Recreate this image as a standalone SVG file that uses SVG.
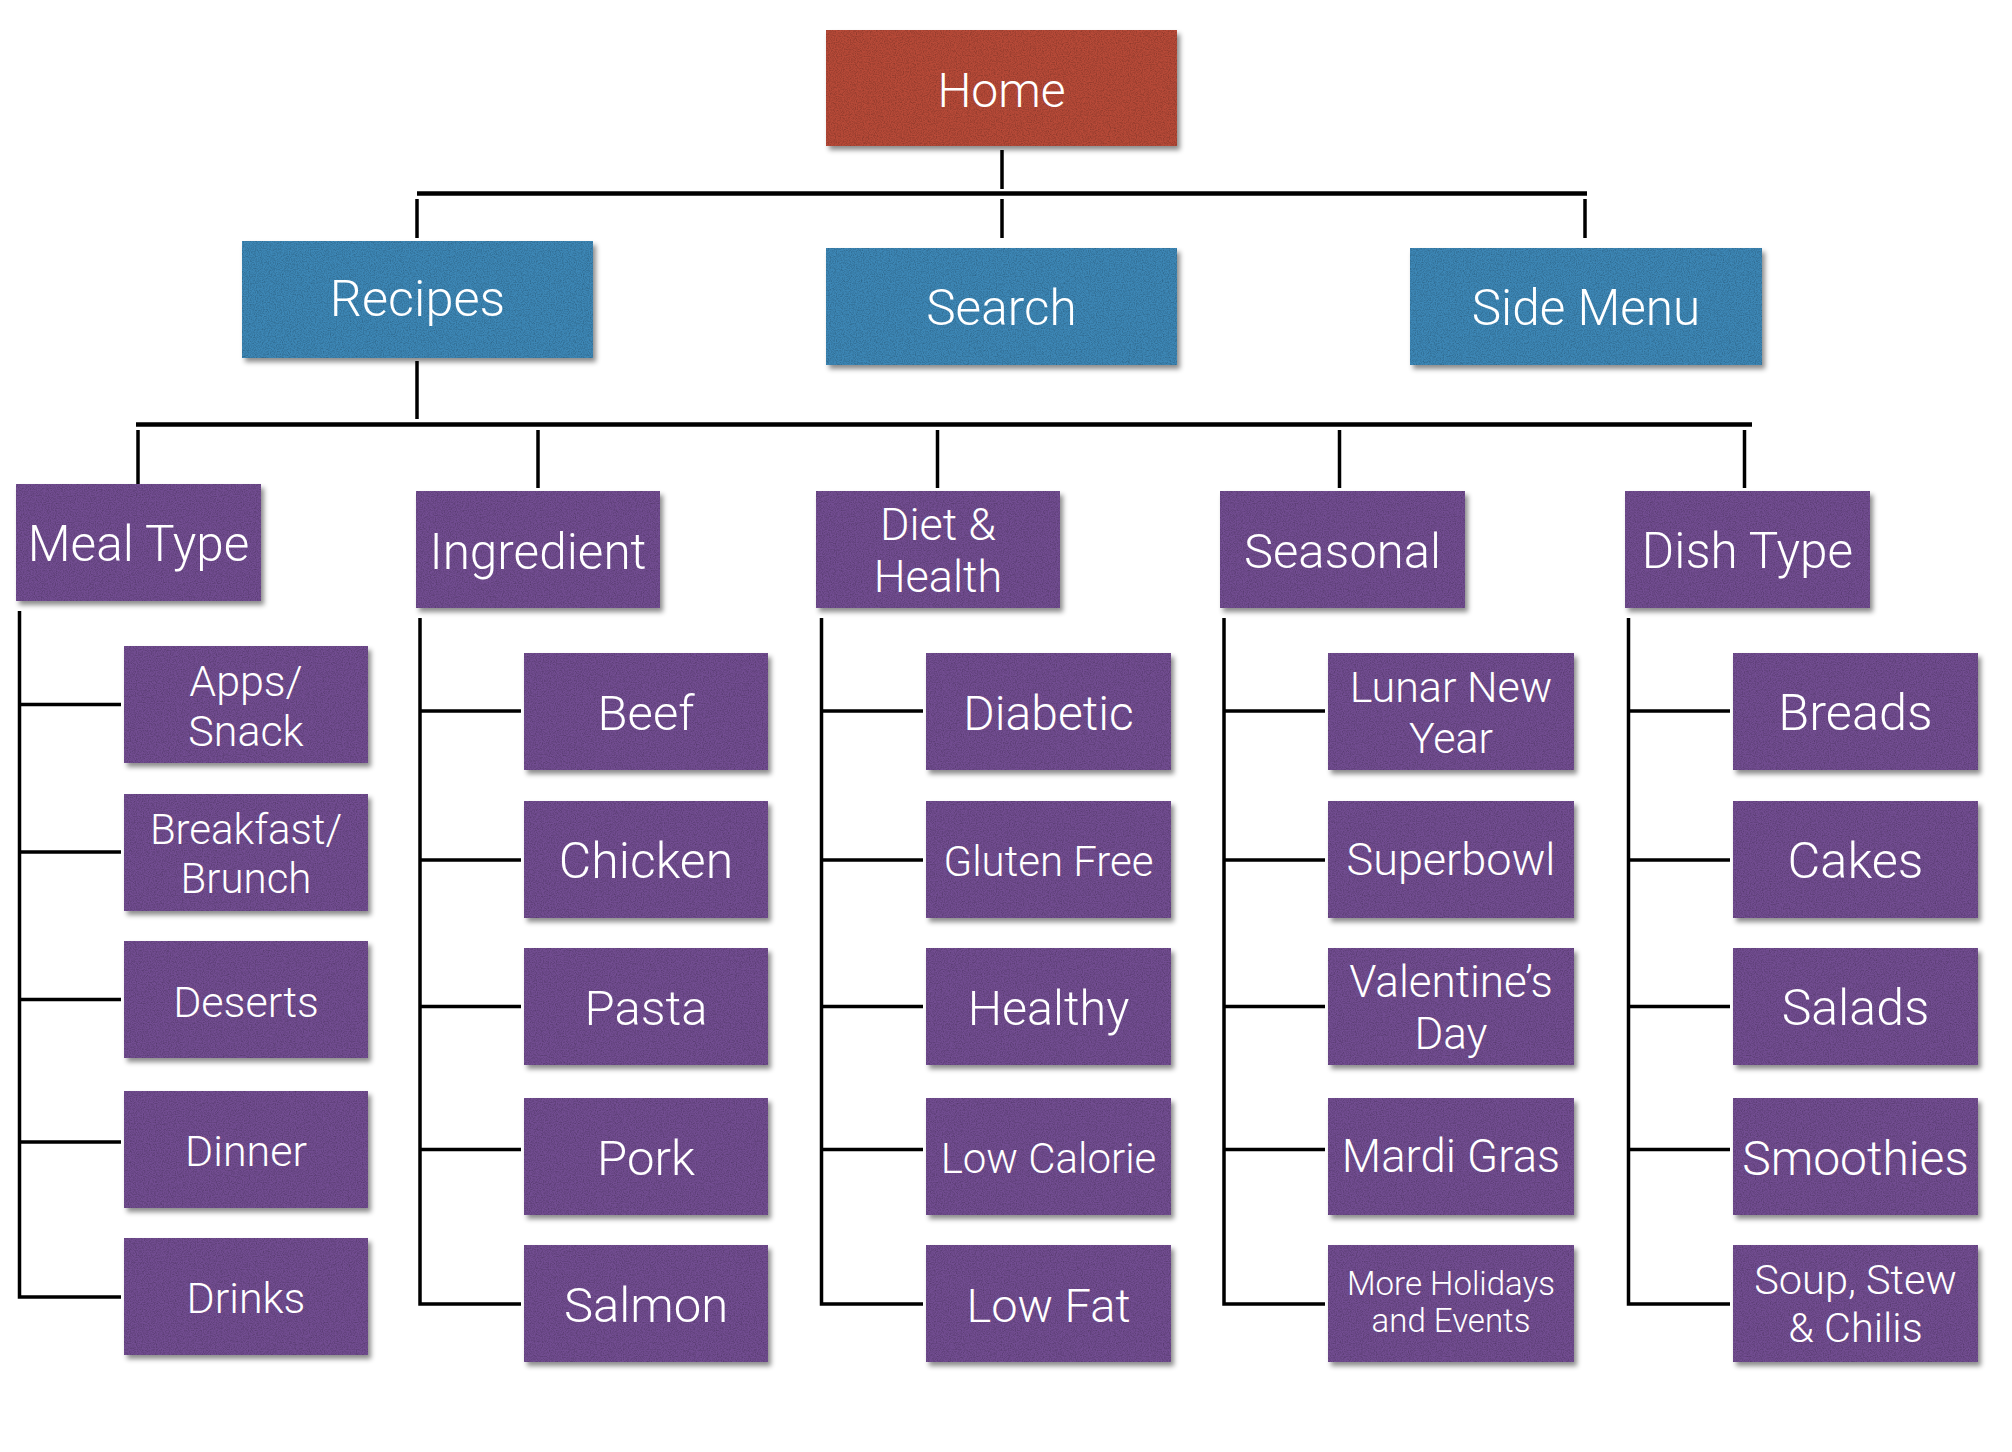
<svg xmlns="http://www.w3.org/2000/svg" width="2012" height="1452" viewBox="0 0 2012 1452">
  <style>
    .card { filter: url(#paper); }
    .home { fill: #b74a38; }
    .nav { fill: #3d87b6; }
    .cat { fill: #724d91; }
    .lbl { font-family: "Roboto Light", Roboto, "Liberation Sans", "DejaVu Sans", sans-serif; font-weight: 300; fill: #ffffff; text-anchor: middle; }
    .wire { fill: none; stroke: #000000; stroke-width: 3.5; stroke-linecap: butt; }
    .bus { fill: none; stroke: #000000; stroke-width: 4.5; }
  </style>
  <defs>
    <!-- paper grain plus a soft drop shadow for every card -->
    <filter id="paper" x="-5%" y="-8%" width="115%" height="125%" color-interpolation-filters="sRGB">
      <feTurbulence type="fractalNoise" baseFrequency="0.85" numOctaves="3" seed="7" result="noise"/>
      <feColorMatrix in="noise" type="matrix" values="0 0 0 0 0  0 0 0 0 0  0 0 0 0 0  0 0 0 0.45 -0.17" result="grain"/>
      <feComposite in="grain" in2="SourceAlpha" operator="in" result="grainIn"/>
      <feGaussianBlur in="SourceAlpha" stdDeviation="2.5" result="blur"/>
      <feOffset in="blur" dx="3" dy="4" result="off"/>
      <feFlood flood-color="#000000" flood-opacity="0.45"/>
      <feComposite in2="off" operator="in" result="shadow"/>
      <feMerge>
        <feMergeNode in="shadow"/>
        <feMergeNode in="SourceGraphic"/>
        <feMergeNode in="grainIn"/>
      </feMerge>
    </filter>
  </defs>

  <g id="connectors">
    <!-- Home to second level -->
    <line class="wire" x1="1002" y1="150" x2="1002" y2="189"/>
    <line class="bus" x1="417" y1="193.5" x2="1587" y2="193.5"/>
    <line class="wire" x1="417" y1="199" x2="417" y2="238"/>
    <line class="wire" x1="1002" y1="199" x2="1002" y2="238"/>
    <line class="wire" x1="1585" y1="199" x2="1585" y2="238"/>
    <!-- Recipes to categories -->
    <line class="wire" x1="417" y1="361" x2="417" y2="419"/>
    <line class="bus" x1="136" y1="424.5" x2="1752" y2="424.5"/>
    <line class="wire" x1="138" y1="430" x2="138" y2="488"/>
    <line class="wire" x1="538" y1="430" x2="538" y2="488"/>
    <line class="wire" x1="937.5" y1="430" x2="937.5" y2="488"/>
    <line class="wire" x1="1339.5" y1="430" x2="1339.5" y2="488"/>
    <line class="wire" x1="1744.5" y1="430" x2="1744.5" y2="488"/>
    <!-- Meal Type spine -->
    <path class="wire" d="M19.5,611 V1297 H121 M19.5,704.5 H121 M19.5,852 H121 M19.5,999.5 H121 M19.5,1142 H121"/>
    <!-- Ingredient spine -->
    <path class="wire" d="M420,618 V1304 H521 M420,711 H521 M420,860 H521 M420,1006.5 H521 M420,1149.5 H521"/>
    <!-- Diet & Health spine -->
    <path class="wire" d="M821.5,618 V1304 H923 M821.5,711 H923 M821.5,860 H923 M821.5,1006.5 H923 M821.5,1149.5 H923"/>
    <!-- Seasonal spine -->
    <path class="wire" d="M1224,618 V1304 H1325 M1224,711 H1325 M1224,860 H1325 M1224,1006.5 H1325 M1224,1149.5 H1325"/>
    <!-- Dish Type spine -->
    <path class="wire" d="M1628.5,618 V1304 H1730 M1628.5,711 H1730 M1628.5,860 H1730 M1628.5,1006.5 H1730 M1628.5,1149.5 H1730"/>
  </g>

  <!-- top level -->
  <g id="home"><rect class="card home" x="826" y="30" width="351" height="116"/><text class="lbl" x="1001.5" y="107" font-size="48">Home</text></g>

  <!-- second level -->
  <g id="recipes"><rect class="card nav" x="242" y="241" width="351" height="117"/><text class="lbl" x="417.5" y="316" font-size="50.5">Recipes</text></g>
  <g id="search"><rect class="card nav" x="826" y="248" width="351" height="117"/><text class="lbl" x="1001.5" y="325" font-size="49.5">Search</text></g>
  <g id="side-menu"><rect class="card nav" x="1410" y="248" width="352" height="117"/><text class="lbl" x="1586" y="325" font-size="49.5">Side Menu</text></g>

  <!-- recipe categories -->
  <g id="meal-type"><rect class="card cat" x="16" y="484" width="245" height="117"/><text class="lbl" x="138.5" y="561" font-size="49.5">Meal Type</text></g>
  <g id="ingredient"><rect class="card cat" x="416" y="491" width="244" height="117"/><text class="lbl" x="538" y="568.5" font-size="49.5">Ingredient</text></g>
  <g id="diet-health"><rect class="card cat" x="816" y="491" width="244" height="117"/><text class="lbl" x="938" font-size="45"><tspan x="938" y="540">Diet &amp;</tspan><tspan x="938" y="592">Health</tspan></text></g>
  <g id="seasonal"><rect class="card cat" x="1220" y="491" width="245" height="117"/><text class="lbl" x="1342.5" y="568" font-size="49">Seasonal</text></g>
  <g id="dish-type"><rect class="card cat" x="1625" y="491" width="245" height="117"/><text class="lbl" x="1747.5" y="568" font-size="49.5">Dish Type</text></g>

  <!-- Meal Type items -->
  <g id="apps-snack"><rect class="card cat" x="124" y="646" width="244" height="117"/><text class="lbl" font-size="43"><tspan x="246" y="695.5">Apps/</tspan><tspan x="246" y="745.5">Snack</tspan></text></g>
  <g id="breakfast-brunch"><rect class="card cat" x="124" y="794" width="244" height="117"/><text class="lbl" font-size="42"><tspan x="246" y="844">Breakfast/</tspan><tspan x="246" y="893">Brunch</tspan></text></g>
  <g id="deserts"><rect class="card cat" x="124" y="941" width="244" height="117"/><text class="lbl" x="246" y="1016.5" font-size="43">Deserts</text></g>
  <g id="dinner"><rect class="card cat" x="124" y="1091" width="244" height="117"/><text class="lbl" x="246" y="1166" font-size="43">Dinner</text></g>
  <g id="drinks"><rect class="card cat" x="124" y="1238" width="244" height="117"/><text class="lbl" x="246" y="1313" font-size="43">Drinks</text></g>

  <!-- Ingredient items -->
  <g id="beef"><rect class="card cat" x="524" y="653" width="244" height="117"/><text class="lbl" x="646" y="730" font-size="49">Beef</text></g>
  <g id="chicken"><rect class="card cat" x="524" y="801" width="244" height="117"/><text class="lbl" x="646" y="878" font-size="50">Chicken</text></g>
  <g id="pasta"><rect class="card cat" x="524" y="948" width="244" height="117"/><text class="lbl" x="646" y="1025" font-size="49">Pasta</text></g>
  <g id="pork"><rect class="card cat" x="524" y="1098" width="244" height="117"/><text class="lbl" x="646" y="1175" font-size="49">Pork</text></g>
  <g id="salmon"><rect class="card cat" x="524" y="1245" width="244" height="117"/><text class="lbl" x="646" y="1322" font-size="49">Salmon</text></g>

  <!-- Diet & Health items -->
  <g id="diabetic"><rect class="card cat" x="926" y="653" width="245" height="117"/><text class="lbl" x="1048.5" y="730" font-size="48">Diabetic</text></g>
  <g id="gluten-free"><rect class="card cat" x="926" y="801" width="245" height="117"/><text class="lbl" x="1048.5" y="875.5" font-size="42">Gluten Free</text></g>
  <g id="healthy"><rect class="card cat" x="926" y="948" width="245" height="117"/><text class="lbl" x="1048.5" y="1024.5" font-size="48.5">Healthy</text></g>
  <g id="low-calorie"><rect class="card cat" x="926" y="1098" width="245" height="117"/><text class="lbl" x="1048.5" y="1172.5" font-size="42">Low Calorie</text></g>
  <g id="low-fat"><rect class="card cat" x="926" y="1245" width="245" height="117"/><text class="lbl" x="1048.5" y="1322" font-size="47">Low Fat</text></g>

  <!-- Seasonal items -->
  <g id="lunar-new-year"><rect class="card cat" x="1328" y="653" width="246" height="117"/><text class="lbl" font-size="43"><tspan x="1451" y="702">Lunar New</tspan><tspan x="1451" y="753">Year</tspan></text></g>
  <g id="superbowl"><rect class="card cat" x="1328" y="801" width="246" height="117"/><text class="lbl" x="1451" y="874.5" font-size="45">Superbowl</text></g>
  <g id="valentines-day"><rect class="card cat" x="1328" y="948" width="246" height="117"/><text class="lbl" font-size="44"><tspan x="1451" y="997">Valentine’s</tspan><tspan x="1451" y="1049">Day</tspan></text></g>
  <g id="mardi-gras"><rect class="card cat" x="1328" y="1098" width="246" height="117"/><text class="lbl" x="1451" y="1172" font-size="45.5">Mardi Gras</text></g>
  <g id="more-holidays"><rect class="card cat" x="1328" y="1245" width="246" height="117"/><text class="lbl" font-size="33"><tspan x="1451" y="1295">More Holidays</tspan><tspan x="1451" y="1332">and Events</tspan></text></g>

  <!-- Dish Type items -->
  <g id="breads"><rect class="card cat" x="1733" y="653" width="245" height="117"/><text class="lbl" x="1855.5" y="730" font-size="50.5">Breads</text></g>
  <g id="cakes"><rect class="card cat" x="1733" y="801" width="245" height="117"/><text class="lbl" x="1855.5" y="878" font-size="50.5">Cakes</text></g>
  <g id="salads"><rect class="card cat" x="1733" y="948" width="245" height="117"/><text class="lbl" x="1855.5" y="1025" font-size="50">Salads</text></g>
  <g id="smoothies"><rect class="card cat" x="1733" y="1098" width="245" height="117"/><text class="lbl" x="1855.5" y="1175" font-size="48">Smoothies</text></g>
  <g id="soup-stew"><rect class="card cat" x="1733" y="1245" width="245" height="117"/><text class="lbl" font-size="41.5"><tspan x="1855.5" y="1294">Soup, Stew</tspan><tspan x="1855.5" y="1342">&amp; Chilis</tspan></text></g>
</svg>
